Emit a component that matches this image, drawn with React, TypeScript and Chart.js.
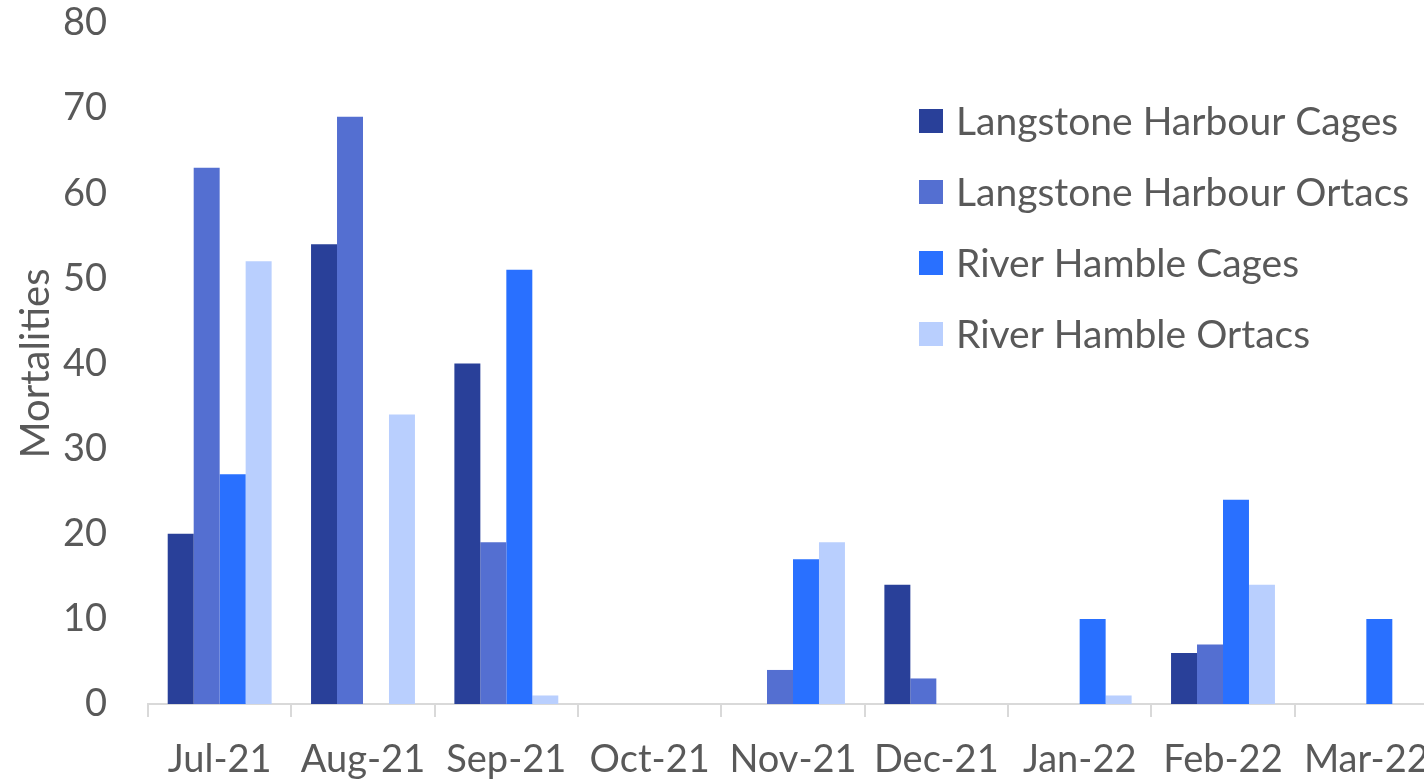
import React, { useEffect, useRef } from "react";
import { Chart, registerables } from "chart.js";

Chart.register(...registerables);

const categories = ["Jul-21", "Aug-21", "Sep-21", "Oct-21", "Nov-21", "Dec-21", "Jan-22", "Feb-22", "Mar-22"];
const langstoneCages = [20, 54, 40, 0, 0, 14, 0, 6, 0];
const langstoneOrtacs = [63, 69, 19, 0, 4, 3, 0, 7, 0];
const hambleCages = [27, 0, 51, 0, 17, 0, 10, 24, 10];
const hambleOrtacs = [52, 34, 1, 0, 19, 0, 1, 14, 0];
const seriesNames = ["Langstone Harbour Cages", "Langstone Harbour Ortacs", "River Hamble Cages", "River Hamble Ortacs"];
const seriesColors = ["#294099", "#546FD1", "#2970FF", "#B9CFFE"];
const yTicks = [0, 10, 20, 30, 40, 50, 60, 70, 80];

const FONT = "Lato";
const TEXT = "#595959";

const legendPlugin = {
  id: "insideLegend",
  afterDraw(chart: any) {
    const ctx = chart.ctx;
    ctx.save();
    ctx.font = `39px ${FONT}`;
    ctx.textBaseline = "middle";
    ctx.textAlign = "left";
    chart.data.datasets.forEach((ds: any, i: number) => {
      const yc = 121 + i * 71;
      ctx.fillStyle = ds.backgroundColor;
      ctx.fillRect(919, yc - 12, 24, 24);
      ctx.fillStyle = TEXT;
      ctx.fillText(ds.label, 956, yc + 1);
    });
    ctx.restore();
  },
};

export default function App() {
  const ref = useRef<HTMLCanvasElement | null>(null);
  useEffect(() => {
    document.body.style.margin = "0";
    document.body.style.overflow = "hidden";
    const values = [langstoneCages, langstoneOrtacs, hambleCages, hambleOrtacs];
    const chart = new Chart(ref.current as HTMLCanvasElement, {
      type: "bar",
      data: {
        labels: categories,
        datasets: values.map((v, i) => ({
          label: seriesNames[i],
          data: v,
          backgroundColor: seriesColors[i],
          borderWidth: 0,
          categoryPercentage: 0.725,
          barPercentage: 1,
        })),
      },
      options: {
        animation: false,
        responsive: false,
        layout: { padding: { left: 0, right: 2, top: 23, bottom: 0 } },
        plugins: { legend: { display: false }, tooltip: { enabled: false } },
        scales: {
          x: {
            grid: {
              display: true,
              offset: true,
              drawOnChartArea: false,
              drawTicks: true,
              tickLength: 13,
              color: "#D9D9D9",
              lineWidth: 2,
            },
            border: { display: true, color: "#D9D9D9", width: 2 },
            ticks: { color: TEXT, font: { family: FONT, size: 38 }, padding: 20, maxRotation: 0, autoSkip: false },
            afterFit(scale: any) {
              scale.height = 77;
              scale.paddingLeft = 0;
              scale.paddingRight = 0;
            },
          },
          y: {
            min: 0,
            max: 80,
            afterBuildTicks(scale: any) {
              scale.ticks = yTicks.map((v) => ({ value: v }));
            },
            grid: { display: false, drawTicks: false },
            border: { display: false },
            ticks: { color: TEXT, font: { family: FONT, size: 38 }, padding: 41 },
            title: {
              display: true,
              text: "Mortalities",
              color: TEXT,
              font: { family: FONT, size: 40 },
              padding: { top: 12, bottom: 0 },
            },
            afterFit(scale: any) {
              scale.width = 148;
              scale.paddingTop = 0;
              scale.paddingBottom = 0;
            },
          },
        },
      },
      plugins: [legendPlugin],
    });
    return () => chart.destroy();
  }, []);
  return (
    <div style={{ position: "absolute", left: 0, top: 0 }}>
      <canvas ref={ref} width={1440} height={781} style={{ display: "block" }} />
    </div>
  );
}
